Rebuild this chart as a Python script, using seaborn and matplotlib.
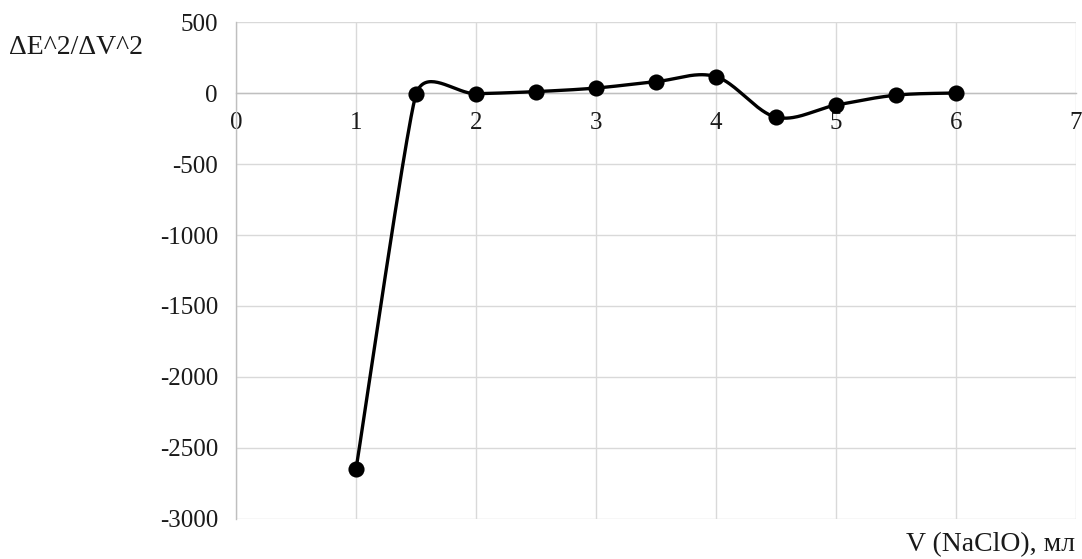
import numpy as np
import pandas as pd
import matplotlib
matplotlib.use("Agg")
import matplotlib.pyplot as plt
import seaborn as sns

# Second-derivative titration data
volume_ml = [1.0, 1.5, 2.0, 2.5, 3.0, 3.5, 4.0, 4.5, 5.0, 5.5, 6.0]
d2e_dv2 = [-2650, -10, -5, 10, 35, 80, 115, -170, -85, -15, 0]

x_ticks = [0, 1, 2, 3, 4, 5, 6, 7]
y_ticks = [-3000, -2500, -2000, -1500, -1000, -500, 0, 500]

sns.set_theme(style="white")
plt.rcParams["font.family"] = ["Liberation Serif", "DejaVu Serif"]


def smooth_curve(ax, xs, ys, steps=40):
    """Smoothed line through every point: cubic Bezier segments built in display
    space, with tangents limited so short segments do not overshoot."""
    pts = ax.transData.transform(np.column_stack([xs, ys]))
    n = len(pts)
    out = []
    for i in range(n - 1):
        p0 = pts[max(i - 1, 0)]
        p1 = pts[i]
        p2 = pts[i + 1]
        p3 = pts[min(i + 2, n - 1)]
        seg = np.linalg.norm(p2 - p1)

        def tangent(a, b, prev_len, next_len):
            t = (b - a) / 6.0
            limit = 0.5 * min(prev_len, next_len)
            ln = np.linalg.norm(t)
            if ln > limit > 0:
                t = t * limit / ln
            return t

        t1 = tangent(p0, p2, np.linalg.norm(p1 - p0) or seg, seg)
        t2 = tangent(p1, p3, seg, np.linalg.norm(p3 - p2) or seg)
        c1 = p1 + t1
        c2 = p2 - t2
        t = np.linspace(0, 1, steps)[:, None]
        out.append(((1 - t) ** 3) * p1 + 3 * ((1 - t) ** 2) * t * c1
                   + 3 * (1 - t) * t ** 2 * c2 + t ** 3 * p2)
    out = ax.transData.inverted().transform(np.vstack(out))
    return out[:, 0], out[:, 1]


fig = plt.figure(figsize=(10.82, 5.59), dpi=100)
ax = fig.add_axes([0.2181, 0.0716, 0.7764, 0.889])
ax.set_xlim(0, 7)
ax.set_ylim(-3000, 500)

sx, sy = smooth_curve(ax, volume_ml, d2e_dv2)
curve = pd.DataFrame({"V": sx, "D": sy})
points = pd.DataFrame({"V": volume_ml, "D": d2e_dv2})

sns.lineplot(data=curve, x="V", y="D", ax=ax, color="black", linewidth=2.4,
             sort=False, estimator=None, zorder=3)
sns.scatterplot(data=points, x="V", y="D", ax=ax, color="black", s=135,
                edgecolor="black", linewidth=0, zorder=4)

ax.set_xlim(0, 7)
ax.set_ylim(-3000, 500)
ax.set_xticks(x_ticks)
ax.set_yticks(y_ticks)
ax.set_xticklabels([str(v) for v in x_ticks])
ax.set_yticklabels([str(v) for v in y_ticks])

ax.grid(True, color="#d9d9d9", linewidth=1.0)
ax.set_axisbelow(True)

for side in ("top", "right"):
    ax.spines[side].set_visible(False)
ax.spines["bottom"].set_position(("data", 0))
ax.spines["bottom"].set_color("#bfbfbf")
ax.spines["left"].set_color("#bfbfbf")
ax.spines["bottom"].set_linewidth(1.0)
ax.spines["left"].set_linewidth(1.0)

ax.tick_params(axis="x", length=0, pad=14, labelsize=18)
ax.tick_params(axis="y", length=0, pad=13, labelsize=18)
for lbl in ax.get_xticklabels() + ax.get_yticklabels():
    lbl.set_color("#1a1a1a")

ax.set_xlabel("")
ax.set_ylabel("")
fig.text(0.008, 0.915, "ΔE^2/ΔV^2", fontsize=20, ha="left", va="center", color="#1a1a1a")
fig.text(0.994, 0.025, "V (NaClO), мл", fontsize=20, ha="right", va="center", color="#1a1a1a")

fig.savefig("out.png", dpi=100)
